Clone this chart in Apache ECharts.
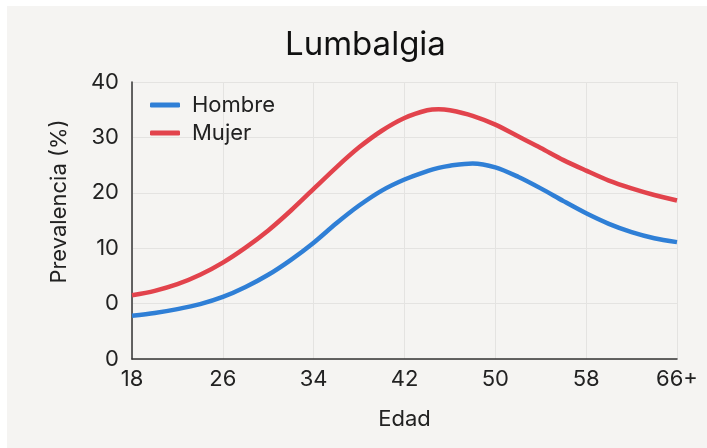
<!DOCTYPE html>
<html>
<head>
<meta charset="utf-8">
<script src="https://cdn.jsdelivr.net/npm/echarts@6/dist/echarts.min.js"></script>
<style>
html,body{margin:0;padding:0;background:#ffffff;width:707px;height:448px;overflow:hidden;}
#chart{position:absolute;left:7px;top:6px;width:700px;height:442px;}
</style>
</head>
<body>
<div id="chart"></div>
<script>
const ages = [18, 20, 22, 24, 26, 28, 30, 32, 34, 36, 38, 40, 42, 44, 45, 46, 48, 50, 52, 54, 56, 58, 60, 62, 64, 66];
const hombre = [-2.2, -1.7, -1.0, -0.1, 1.2, 3.0, 5.2, 7.9, 11.0, 14.5, 17.7, 20.4, 22.4, 23.9, 24.5, 24.9, 25.3, 24.6, 22.9, 20.8, 18.5, 16.3, 14.4, 12.9, 11.8, 11.1];
const mujer = [1.5, 2.3, 3.5, 5.2, 7.4, 10.1, 13.2, 16.8, 20.7, 24.6, 28.2, 31.2, 33.5, 34.9, 35.1, 34.9, 33.9, 32.3, 30.2, 28.1, 25.9, 24.0, 22.2, 20.8, 19.6, 18.6];
const xTickLabels = ['18', '26', '34', '42', '50', '58', '66+'];
const yTickLabels = ['0', '0', '10', '20', '30', '40'];

const font = 'Inter, Roboto, sans-serif';
const chart = echarts.init(document.getElementById('chart'));
chart.setOption({
  backgroundColor: '#f5f4f2',
  animation: false,
  title: {
    text: 'Lumbalgia',
    left: 273,
    top: 18,
    padding: 5,
    textStyle: {fontFamily: font, fontSize: 33, fontWeight: 'normal', color: '#111'}
  },
  legend: {
    orient: 'vertical',
    left: 138,
    top: 83,
    itemWidth: 30,
    itemHeight: 5,
    itemGap: 6,
    icon: 'roundRect',
    textStyle: {fontFamily: font, fontSize: 22, color: '#222', padding: [0, 0, 0, 7]},
    data: ['Hombre', 'Mujer']
  },
  grid: {left: 125, top: 76, right: 30, bottom: 89},
  xAxis: {
    type: 'value',
    min: 18, max: 66, interval: 8,
    name: 'Edad',
    nameLocation: 'middle',
    nameGap: 49,
    nameTextStyle: {fontFamily: font, fontSize: 22, color: '#222'},
    axisLine: {show: true, onZero: false, lineStyle: {color: '#333', width: 1.5}},
    axisTick: {show: false},
    axisLabel: {
      fontFamily: font, fontSize: 22, color: '#222', margin: 9,
      formatter: v => xTickLabels[Math.round((v - 18) / 8)]
    },
    splitLine: {show: true, lineStyle: {color: '#e4e3e1', width: 1}}
  },
  yAxis: {
    type: 'value',
    min: -10, max: 40, interval: 10,
    name: 'Prevalencia (%)',
    nameLocation: 'middle',
    nameGap: 62,
    nameTextStyle: {fontFamily: font, fontSize: 22, color: '#222', padding: [0, 0, 0, 38]},
    axisLine: {show: true, onZero: false, lineStyle: {color: '#333', width: 1.5}},
    axisTick: {show: false},
    axisLabel: {
      fontFamily: font, fontSize: 22, color: '#222', margin: 13,
      formatter: v => yTickLabels[Math.round((v + 10) / 10)]
    },
    splitLine: {show: true, lineStyle: {color: '#e4e3e1', width: 1}}
  },
  series: [
    {
      name: 'Hombre', type: 'line', smooth: 0.3, symbol: 'none',
      lineStyle: {width: 4.5, color: '#2f7fd6'},
      itemStyle: {color: '#2f7fd6'},
      data: ages.map((a, i) => [a, hombre[i]])
    },
    {
      name: 'Mujer', type: 'line', smooth: 0.3, symbol: 'none',
      lineStyle: {width: 4.5, color: '#e2434c'},
      itemStyle: {color: '#e2434c'},
      data: ages.map((a, i) => [a, mujer[i]])
    }
  ]
});
</script>
</body>
</html>
